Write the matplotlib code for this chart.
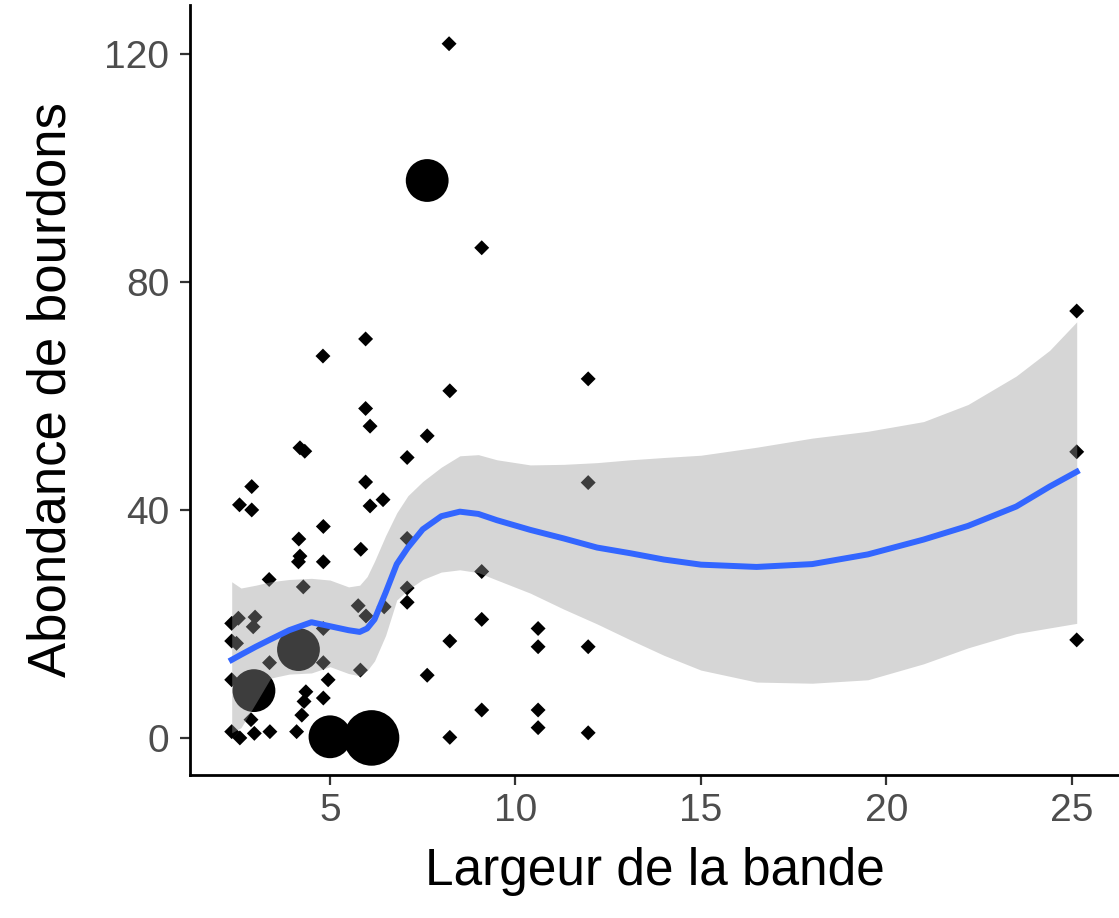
import matplotlib
matplotlib.use("Agg")
import matplotlib.pyplot as plt
import numpy as np

plt.rcParams["font.family"] = ["Liberation Sans", "DejaVu Sans"]

# Observations: largeur de la bande (m), abondance de bourdons, nb d'observations superposees
largeur = [
    8.21, 9.09, 5.96, 4.81, 11.96, 8.23, 5.96, 6.08, 7.62, 4.19,
    4.32, 7.08, 2.89, 5.96, 11.96, 6.43, 2.56, 2.89, 6.08, 4.82,
    4.16, 7.08, 5.83, 4.19, 4.15, 4.82, 9.09, 3.36, 4.28, 7.08,
    7.08, 5.76, 6.46, 5.97, 9.09, 2.53, 2.98, 2.35, 2.93, 4.82,
    10.61, 2.35, 2.48, 8.23, 10.61, 11.96, 3.37, 4.82, 5.82, 7.62,
    2.35, 4.95, 4.35, 4.82, 4.30, 4.24, 9.09, 10.61, 2.87, 2.35,
    2.57, 2.96, 3.38, 4.10, 10.61, 11.96, 8.23, 25.13, 25.13, 25.13,
    7.62, 2.95, 4.15, 5.00, 6.12,
]
abondance = [
    121.8, 86.0, 70.0, 67.0, 63.0, 60.9, 57.8, 54.7, 53.0, 50.9,
    50.3, 49.2, 44.1, 44.9, 44.8, 41.8, 40.9, 40.0, 40.7, 37.1,
    34.9, 35.0, 33.1, 31.9, 30.9, 30.9, 29.2, 27.8, 26.5, 26.3,
    23.8, 23.2, 23.0, 21.4, 20.8, 21.0, 21.2, 20.1, 19.5, 19.2,
    19.2, 17.0, 16.6, 17.0, 16.0, 16.0, 13.2, 13.2, 11.9, 11.0,
    10.2, 10.2, 8.1, 7.0, 6.4, 4.0, 4.9, 4.9, 3.2, 1.1,
    0.0, 0.8, 1.1, 1.1, 1.8, 0.9, 0.1, 74.9, 50.2, 17.2,
    97.8, 8.3, 15.5, 0.2, 0.0,
]
effectif = [1] * 70 + [2, 2, 2, 2, 3]

# Courbe loess et intervalle de confiance
lisse_x = [2.35, 2.6, 3.0, 3.4, 3.9, 4.5, 5.0, 5.5, 5.8, 6.0, 6.2, 6.5, 6.8, 7.1, 7.5,
           8.0, 8.5, 9.0, 9.5, 10.4, 11.3, 12.2, 13.1, 14.0, 15.0, 16.5, 18.0,
           19.5, 21.0, 22.2, 23.5, 24.4, 25.13]
lisse_y = [13.7, 14.6, 16.0, 17.3, 18.9, 20.3, 19.6, 18.9, 18.6, 19.2, 20.8, 25.5, 30.5, 33.4, 36.6,
           38.9, 39.7, 39.3, 38.2, 36.5, 35.0, 33.4, 32.4, 31.3, 30.4, 30.0, 30.5,
           32.2, 34.8, 37.2, 40.6, 44.1, 46.7]
lisse_bas = [0.9, 1.8, 6.1, 10.5, 11.2, 11.4, 12.5, 11.3, 10.9, 11.8, 13.5, 18.0, 24.2, 26.0, 27.8,
             29.1, 29.5, 29.0, 27.7, 25.4, 22.6, 20.0, 17.2, 14.5, 11.9, 9.8, 9.6,
             10.2, 13.0, 15.8, 18.3, 19.3, 20.1]
lisse_haut = [27.4, 26.3, 26.8, 27.4, 27.8, 28.0, 27.7, 26.5, 26.8, 28.3, 31.0, 35.5, 39.5, 42.5, 45.0,
              47.5, 49.5, 49.7, 48.8, 47.9, 48.0, 48.3, 48.8, 49.2, 49.6, 51.0, 52.6,
              53.8, 55.5, 58.5, 63.5, 68.0, 73.0]

x_ticks = [5, 10, 15, 20, 25]
y_ticks = [0, 40, 80, 120]

fig = plt.figure(figsize=(11.19, 9.18), dpi=100)
ax = fig.add_axes([0.1698, 0.1558, 0.8302, 0.8388])

x = np.array(largeur)
y = np.array(abondance)
n = np.array(effectif)
taille = {1: 58, 2: 950, 3: 1600}
s = np.array([taille[k] for k in effectif])

seul = n == 1
ax.scatter(x[seul], y[seul], s=s[seul], marker="D", c="black", linewidths=0, zorder=1)
ax.scatter(x[~seul], y[~seul], s=s[~seul], marker="o", c="black", linewidths=0, zorder=1)

ax.fill_between(lisse_x, lisse_bas, lisse_haut, color="#999999", alpha=0.4,
                linewidth=0, zorder=2)
ax.plot(lisse_x, lisse_y, color="#3366FF", linewidth=4.3, zorder=3,
        solid_joinstyle="round")

ax.set_xlim(1.226, 26.27)
ax.set_ylim(-6.5, 128.6)
ax.set_xticks(x_ticks)
ax.set_yticks(y_ticks)

for side in ["top", "right"]:
    ax.spines[side].set_visible(False)
for side in ["left", "bottom"]:
    ax.spines[side].set_linewidth(2.0)
    ax.spines[side].set_color("black")

ax.tick_params(axis="both", length=7, width=1.6, color="#333333",
               labelsize=28, labelcolor="#4D4D4D", pad=6)
ax.tick_params(axis="y", pad=8)

ax.set_xlabel("Largeur de la bande", fontsize=37, labelpad=13)
ax.set_ylabel("Abondance de bourdons", fontsize=38, labelpad=20)

fig.savefig("out.png", dpi=100)
